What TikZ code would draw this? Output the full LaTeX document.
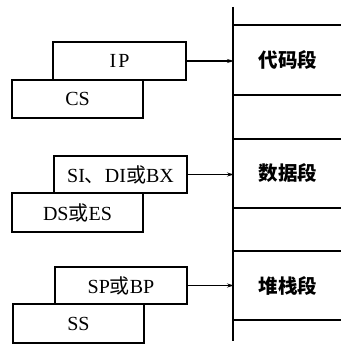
\documentclass[tikz,border=0pt]{standalone}
\usepackage{fontspec}
\setmainfont{Liberation Serif}
\newfontfamily\cjk{Noto Sans CJK SC}
\usetikzlibrary{arrows.meta}
\tikzset{
  reg/.style={draw, line width=1.3pt, rectangle, inner sep=0pt, outer sep=0pt,
    minimum width=132pt, minimum height=38pt, font=\fontsize{20}{22}\selectfont},
  seg/.style={inner sep=0pt, outer sep=0pt, minimum width=108pt, minimum height=68pt,
    font=\fontsize{19.5}{21}\selectfont\cjk\bfseries},
  segline/.style={line width=1.3pt},
  ptr/.style={line width=1.3pt, -{Stealth[length=7pt,width=4pt]}}
}
\begin{document}
\begin{tikzpicture}[x=1pt,y=-1pt]
\useasboundingbox (0,0) rectangle (341,344);
% memory column
\coordinate (top) at (233,7);
\coordinate (bot) at (233,341);
\draw[segline] (top) -- (bot);
\foreach \yy/\nm in {25/a,95/b,139/c,208/d,251/e,320/f}{
  \coordinate (l\nm) at (233,\yy);
  \coordinate (r\nm) at (341,\yy);
  \draw[segline] (l\nm) -- (r\nm);
}
\node[seg] (code) at (288,60) {代码段};
\node[seg] (data) at (288,173) {数据段};
\node[seg] (stack) at (288,285.5) {堆栈段};
% registers
\node[reg, minimum width=133pt] (ip) at (119.5,61) {I\kern2ptP};
\node[reg, minimum width=131pt] (cs) at (77.5,99) {CS};
\node[reg, minimum width=133pt, minimum height=37pt] (si) at (120.5,174.5) {SI{\cjk 、}DI{\cjk 或}BX};
\node[reg, minimum width=131pt, minimum height=39pt] (ds) at (77.5,212.5) {DS{\cjk 或}ES};
\node[reg, minimum width=132pt, minimum height=37pt] (sp) at (121,285.5) {SP{\cjk 或}BP};
\node[reg, minimum width=131pt, minimum height=39pt] (ss) at (78.5,323.5) {SS};
% pointers
\draw[ptr] (ip.east) -- (ip.east -| code.west);
\draw[ptr] (si.east) -- (si.east -| data.west);
\draw[ptr] (sp.east) -- (sp.east -| stack.west);
\end{tikzpicture}
\end{document}
